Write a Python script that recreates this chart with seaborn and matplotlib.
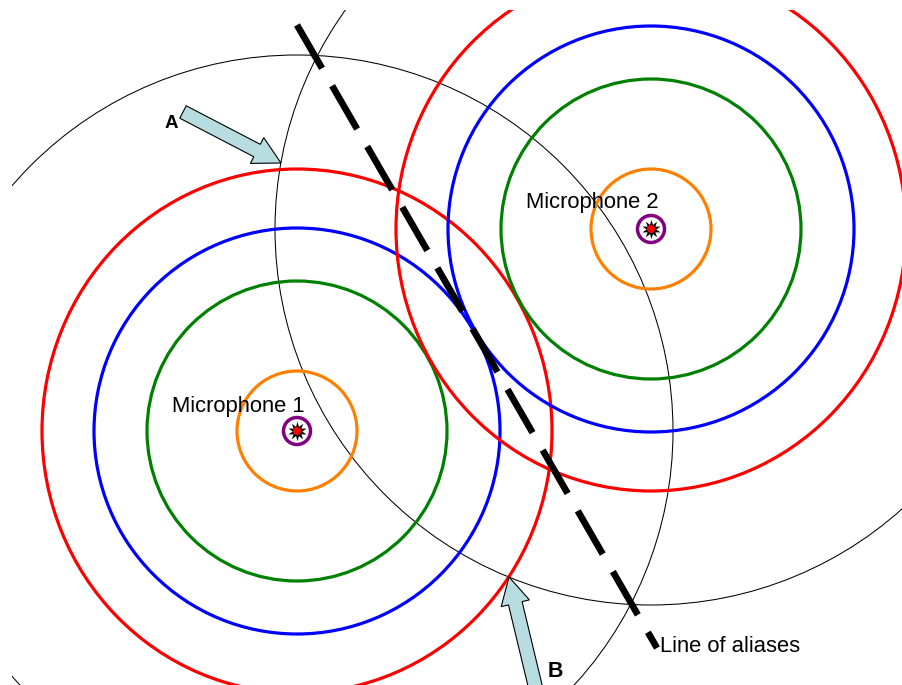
import matplotlib
matplotlib.use("Agg")
import matplotlib.pyplot as plt
from matplotlib.patches import Circle, Ellipse, FancyArrow
import seaborn as sns
import numpy as np

# ---- data (pixel-space diagram coordinates) ----
mic_names = ["Microphone 1", "Microphone 2"]
mic_x = [297, 651]
mic_y = [431, 229]
ring_radii_x = [60, 150, 203, 255]
ring_radii_y = [60, 150, 203, 262]
ring_colors = ["#FF8000", "#008000", "#0000FF", "#FF0000"]
alias_radius = 376
label_x = [172, 526]
label_y = [412, 208]
alias_line_x = [297, 657]
alias_line_y = [25, 648]
arrow_labels = ["A", "B"]
arrow_tail_x = [183, 539]
arrow_tail_y = [112, 702]
arrow_tip_x = [281, 509]
arrow_tip_y = [163, 577]
arrow_label_x = [165, 548]
arrow_label_y = [128, 677]
arrow_label_size = [13.5, 15.5]

sns.set_theme(style="white")
plt.rcParams['font.family'] = ['Liberation Sans', 'DejaVu Sans']
plt.rcParams['lines.scale_dashes'] = False

W, H = 902, 685
fig = plt.figure(figsize=(W / 100, H / 100), dpi=100)
left_px, top_px = 12, 10
ax = fig.add_axes([left_px / W, 0, (W - left_px) / W, (H - top_px) / H])
ax.set_xlim(left_px, W)
ax.set_ylim(H, top_px)
ax.set_aspect('equal')
ax.axis('off')

# thin alias circles
for cx, cy in zip(mic_x, mic_y):
    ax.add_patch(Circle((cx, cy), alias_radius, fill=False, ec='black', lw=0.75, zorder=1))

# coloured rings
for cx, cy in zip(mic_x, mic_y):
    for rx, ry, c in zip(ring_radii_x, ring_radii_y, ring_colors):
        ax.add_patch(Ellipse((cx, cy), 2 * rx, 2 * ry, fill=False, ec=c, lw=2.3, zorder=2))

# line of aliases
ax.plot(alias_line_x, alias_line_y, color='black', lw=4.8, dashes=(36, 14.5),
        solid_capstyle='butt', dash_capstyle='butt', zorder=4)

# microphones
for cx, cy in zip(mic_x, mic_y):
    ax.add_patch(Circle((cx, cy), 13.5, fill=False, ec='#800080', lw=2.5, zorder=5))
sns.scatterplot(x=mic_x, y=mic_y, marker=(10, 1, 0), s=190, color='black',
                edgecolor='black', linewidth=0, ax=ax, zorder=6, legend=False)
sns.scatterplot(x=mic_x, y=mic_y, marker='o', s=34, color='#FF0000',
                edgecolor='none', linewidth=0, ax=ax, zorder=7, legend=False)

for name, lx, ly in zip(mic_names, label_x, label_y):
    ax.text(lx, ly, name, fontsize=15.8, color='black', ha='left', va='baseline', zorder=8)

ax.text(660, 652, "Line of aliases", fontsize=15.8, color='black', ha='left',
        va='baseline', zorder=8)

# arrows
for tx, ty, hx, hy in zip(arrow_tail_x, arrow_tail_y, arrow_tip_x, arrow_tip_y):
    ax.add_patch(FancyArrow(tx, ty, hx - tx, hy - ty, width=14, head_width=29,
                            head_length=27, length_includes_head=True,
                            fc='#B7DDE0', ec='black', lw=0.8, zorder=9))
for lab, lx, ly, fs in zip(arrow_labels, arrow_label_x, arrow_label_y, arrow_label_size):
    ax.text(lx, ly, lab, fontsize=fs, fontweight='bold', color='black',
            ha='left', va='baseline', zorder=10)

fig.savefig("out.png", dpi=100)
